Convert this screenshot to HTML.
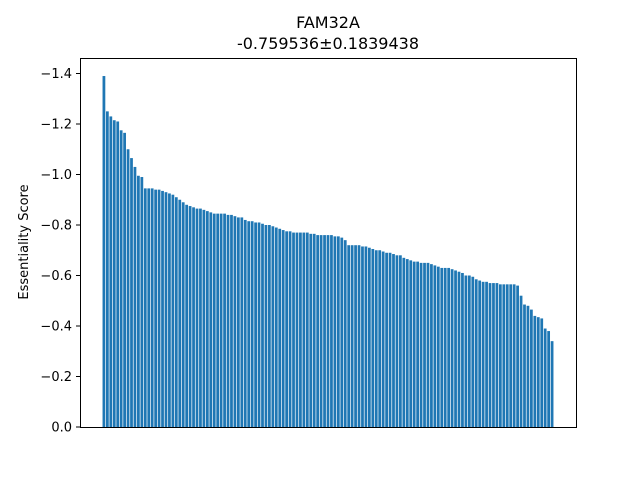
<!DOCTYPE html>
<html><head><meta charset="utf-8"><style>
body{margin:0;background:#fff;font-family:"Liberation Sans","DejaVu Sans",sans-serif;}
svg text{font-family:"DejaVu Sans","Liberation Sans",sans-serif;}
</style></head><body>
<svg id="chart" width="640" height="480" xmlns="http://www.w3.org/2000/svg">
<rect width="640" height="480" fill="#fff"/>
<text x="328" y="28" font-size="16" text-anchor="middle">FAM32A</text>
<text x="328" y="49" font-size="16" text-anchor="middle">-0.759536±0.1839438</text>
<text transform="translate(28,242) rotate(-90)" font-size="13" text-anchor="middle">Essentiality Score</text>
<g id="bars"></g>
<g id="yticks"></g>
<rect x="80.5" y="58.5" width="496" height="369" fill="none" stroke="#000" stroke-width="1"/>
</svg>
<script>
const values = [1.39,1.25,1.23,1.215,1.21,1.175,1.165,1.10,1.065,1.03,
.995,.99,.945,.945,.945,.94,.94,.935,.93,.925,
.92,.91,.90,.89,.88,.875,.87,.865,.865,.86,
.855,.85,.845,.845,.845,.845,.84,.84,.835,.83,
.83,.82,.815,.815,.81,.81,.805,.80,.80,.795,
.79,.785,.78,.775,.775,.77,.77,.77,.77,.77,
.765,.765,.76,.76,.76,.76,.76,.755,.755,.75,
.74,.72,.72,.72,.72,.715,.715,.71,.705,.70,
.70,.695,.69,.69,.685,.68,.68,.67,.665,.66,
.655,.655,.65,.65,.65,.645,.64,.635,.63,.63,
.63,.625,.62,.615,.61,.60,.60,.595,.585,.58,
.575,.575,.57,.57,.57,.565,.565,.565,.565,.565,.56,
.52,.485,.48,.465,.44,.435,.43,.39,.38,.34].map(v=>-v);
const yTicks = [0,-0.2,-0.4,-0.6,-0.8,-1.0,-1.2,-1.4];
const yTickLabels = ["0.0","\u22120.2","\u22120.4","\u22120.6","\u22120.8","\u22121.0","\u22121.2","\u22121.4"];
const NS="http://www.w3.org/2000/svg";
const L=80,R=576,T=58,B=427;
const n=values.length;
const span=(n-0.2)*1.1;
const x0=-0.4-0.05*(n-0.2);
function xs(v){return L+(v-x0)/span*(R-L);}
function ys(v){return B+v*252.5;}
const bars=document.getElementById('bars');
values.forEach((v,i)=>{
 const r=document.createElementNS(NS,'rect');
 const xa=xs(i-0.4),xb=xs(i+0.4);
 r.setAttribute('x',xa);r.setAttribute('width',xb-xa);
 r.setAttribute('y',ys(v));r.setAttribute('height',ys(0)-ys(v));
 r.setAttribute('fill','#1f77b4');
 
 
 bars.appendChild(r);
});
const yt=document.getElementById('yticks');
yTicks.forEach((t,i)=>{
 const y=ys(t);
 const ln=document.createElementNS(NS,'line');
 ln.setAttribute('x1',76);ln.setAttribute('x2',80);ln.setAttribute('y1',y);ln.setAttribute('y2',y);
 ln.setAttribute('stroke','#000');
 
 
 yt.appendChild(ln);
 const tx=document.createElementNS(NS,'text');
 tx.setAttribute('x',72);tx.setAttribute('y',y+4.5);tx.setAttribute('font-size','13');tx.setAttribute('text-anchor','end');
 tx.textContent=yTickLabels[i];
 
 
 yt.appendChild(tx);
});
</script>
</body></html>
